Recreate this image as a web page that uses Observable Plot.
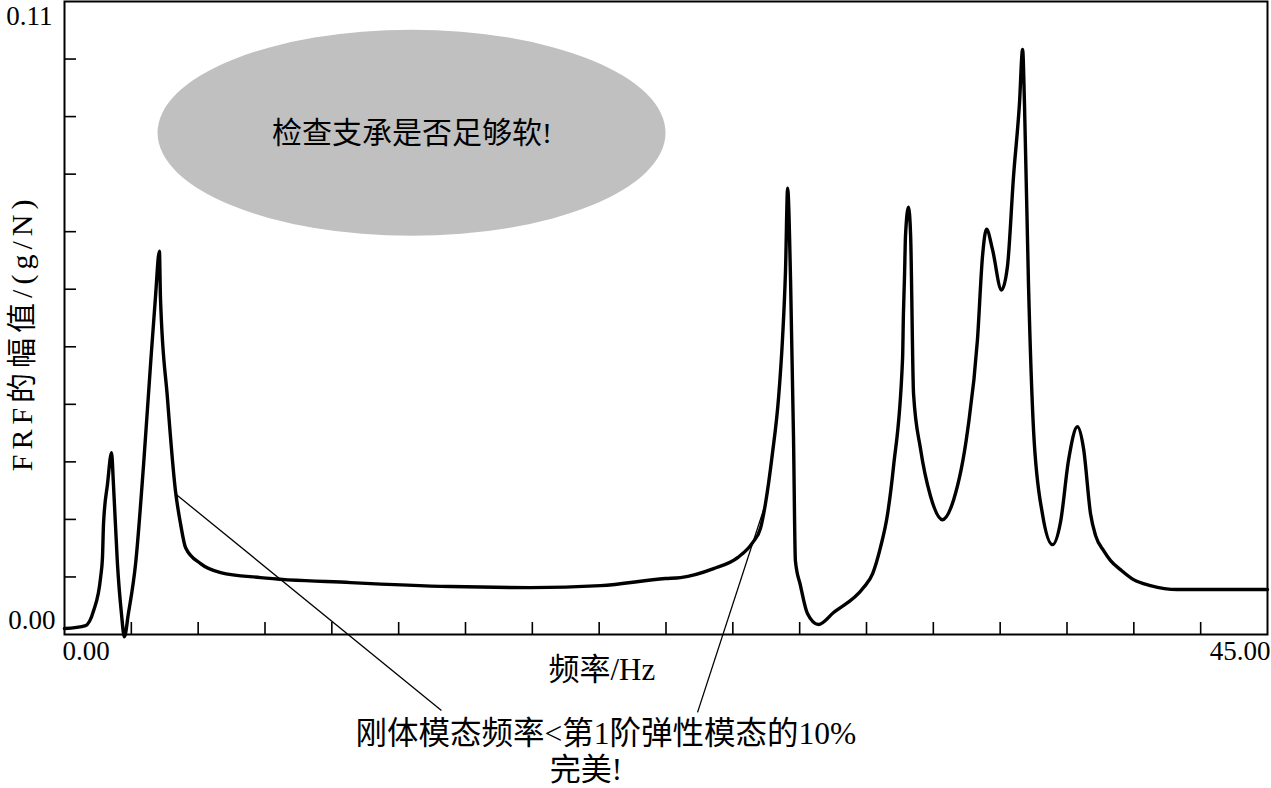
<!DOCTYPE html>
<html>
<head>
<meta charset="utf-8">
<script src="https://cdn.jsdelivr.net/npm/d3@7"></script>
<script src="https://cdn.jsdelivr.net/npm/@observablehq/plot@0.6"></script>
<style>
  html, body { margin: 0; padding: 0; background: #fff; }
  #chart svg { display: block; }
</style>
</head>
<body>
<div id="chart"></div>
<script>
// ---- Data ----
const freqHz = [0.00,0.79,1.09,1.35,1.42,1.46,1.61,1.76,1.83,1.98,2.13,2.24,2.39,2.66,2.96,3.22,3.40,3.55,3.59,3.85,
  4.15,4.34,4.53,5.09,5.84,7.33,10.70,14.44,17.43,20.05,22.48,23.04,24.28,25.18,25.74,26.04,26.22,26.48,26.71,26.86,
  26.97,27.05,27.16,27.27,27.34,27.53,27.79,28.20,28.77,29.89,30.23,30.52,30.79,31.01,31.35,31.38,31.42,31.46,31.57,31.65,
  31.76,32.02,32.39,32.84,33.26,33.78,34.15,34.34,34.49,34.71,35.05,35.27,35.50,35.72,35.84,35.91,36.06,36.25,36.58,36.96,
  37.26,37.56,37.89,38.12,38.38,38.57,38.87,39.13,39.50,39.99,40.62,41.63,45.00];
const frfAmp = [0.00104,0.00156,0.00416,0.00989,0.01336,0.01926,0.02620,0.03158,0.02620,0.01232,0.00364,-0.0004,0.00364,0.01232,0.02967,0.04702,0.05847,0.06662,0.05847,0.04112,
  0.02498,0.01926,0.01509,0.01232,0.01076,0.00989,0.00902,0.00833,0.00815,0.00850,0.00972,0.00989,0.01145,0.01336,0.01596,0.01856,0.02273,0.03140,0.04112,0.05153,
  0.06315,0.07755,0.06142,0.03418,0.01284,0.00850,0.00364,0.00173,0.00382,0.00815,0.01058,0.01509,0.02099,0.02915,0.04806,0.05552,0.06194,0.06940,0.07425,0.06940,
  0.04181,0.03227,0.02412,0.01995,0.02342,0.03539,0.05118,0.06575,0.07044,0.06697,0.05986,0.06385,0.07963,0.09212,0.10167,0.09212,0.06072,0.03539,0.02099,0.01561,
  0.01960,0.03036,0.03609,0.03227,0.02099,0.01718,0.01457,0.01284,0.01128,0.00954,0.00850,0.00781,0.00781];

const xTicks = [2.5,5,7.5,10,12.5,15,17.5,20,22.5,25,27.5,30,32.5,35,37.5,40,42.5];
const yTicks = [0.01,0.02,0.03,0.04,0.05,0.06,0.07,0.08,0.09,0.10];
const xTickLabels = [{v: 0, t: "0.00"}, {v: 45, t: "45.00"}];
const yTickLabels = [{v: 0, t: "0.00"}, {v: 0.11, t: "0.11"}];

const xTitle = "频率/Hz";
const yTitle = "FRF的幅值/(g/N)";
const bubbleText = "检查支承是否足够软!";
const noteLine1 = "刚体模态频率<第1阶弹性模态的10%";
const noteLine2 = "完美!";

// annotation anchors (data coordinates)
const bubble = {x: 13.0, y: 0.0871, rx: 9.5, ry: 0.0179};
const leaders = [
  {x1: 4.19, y1: 0.02429, x2: 14.10, y2: -0.01319},
  {x1: 26.26, y1: 0.02325, x2: 23.68, y2: -0.01353}
];

const curve = freqHz.map((f, i) => ({f, a: frfAmp[i]}));

const FONT = "'Liberation Serif', 'Times New Roman', 'Noto Sans CJK SC', serif";
const W = 1271, H = 788;
const mL = 64, mR = 4, mT = 1, mB = 154;
const plotH = H - mT - mB;
const plotW = W - mL - mR;

const chart = Plot.plot({
  width: W,
  height: H,
  marginLeft: mL,
  marginRight: mR,
  marginTop: mT,
  marginBottom: mB,
  style: {fontFamily: FONT, background: "#fff", overflow: "visible", color: "#000"},
  x: {domain: [0, 45], axis: null},
  y: {domain: [0, 0.11], axis: null},
  marks: [
    // grey bubble
    (index, scales) => {
      const g = d3.create("svg:g");
      const cx = scales.x(bubble.x), cy = scales.y(bubble.y);
      const rx = scales.x(bubble.x + bubble.rx) - cx;
      const ry = cy - scales.y(bubble.y + bubble.ry);
      g.append("ellipse").attr("cx", cx).attr("cy", cy).attr("rx", rx).attr("ry", ry)
        .attr("fill", "#c0c0c0");
      return g.node();
    },
    Plot.text([bubbleText], {x: bubble.x, y: bubble.y, text: d => d, fontSize: 30, fill: "#000"}),
    // inward ticks
    Plot.tickX(xTicks, {x: d => d, insetTop: plotH - 12, stroke: "#000", strokeWidth: 1.6}),
    Plot.tickY(yTicks, {y: d => d, insetRight: plotW - 12, stroke: "#000", strokeWidth: 1.6}),
    Plot.frame({stroke: "#000", strokeWidth: 2}),
    // leader lines
    Plot.link(leaders, {x1: "x1", y1: "y1", x2: "x2", y2: "y2", stroke: "#000", strokeWidth: 1.3}),
    // FRF curve
    Plot.line(curve, {x: "f", y: "a", stroke: "#000", strokeWidth: 3.4, curve: "monotone-x", strokeLinejoin: "round"}),
    // tick labels
    Plot.text(xTickLabels.filter(d => d.v === 0), {x: "v", text: "t", frameAnchor: "bottom", dy: 25, textAnchor: "start", dx: -2, fontSize: 27}),
    Plot.text(xTickLabels.filter(d => d.v === 45), {x: "v", text: "t", frameAnchor: "bottom", dy: 25, textAnchor: "end", dx: 3, fontSize: 27}),
    Plot.text(yTickLabels.filter(d => d.v === 0.11), {y: "v", text: "t", frameAnchor: "left", dx: -12, dy: 15, textAnchor: "end", fontSize: 27}),
    Plot.text(yTickLabels.filter(d => d.v === 0), {y: "v", text: "t", frameAnchor: "left", dx: -9, dy: -14, textAnchor: "end", fontSize: 27}),
    // axis titles
    Plot.text([xTitle], {x: 20.1, text: d => d, frameAnchor: "bottom", dy: 45, fontSize: 31}),
    Plot.text([yTitle], {y: 0.0524, text: d => d, frameAnchor: "left", textAnchor: "middle", dx: -42, rotate: -90, fontSize: 30}),
    // note
    Plot.text([noteLine1], {x: 20.25, y: -0.0172, text: d => d, fontSize: 31.5}),
    Plot.text([noteLine2], {x: 19.5, y: -0.0236, text: d => d, fontSize: 31})
  ]
});

// the reference sets the y title with wide spacing
d3.select(chart).selectAll("text")
  .filter(function() { return this.textContent === yTitle; })
  .attr("letter-spacing", "5px");

document.getElementById("chart").appendChild(chart);
</script>
</body>
</html>
